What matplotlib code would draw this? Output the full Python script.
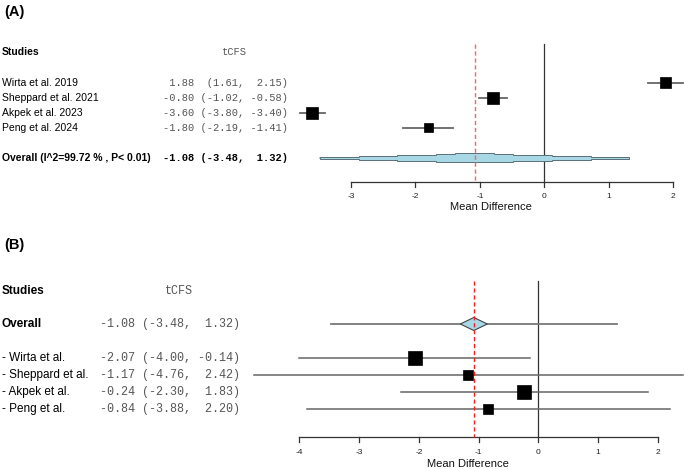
import matplotlib
matplotlib.use("Agg")
import matplotlib.pyplot as plt
from matplotlib.patches import Polygon, Rectangle

W, H = 685, 469

# ---------------- data ----------------
studies_a = ["Wirta et al. 2019", "Sheppard et al. 2021", "Akpek et al. 2023", "Peng et al. 2024"]
md_a = [1.88, -0.80, -3.60, -1.80]
lo_a = [1.61, -1.02, -3.80, -2.19]
hi_a = [2.15, -0.58, -3.40, -1.41]
size_a = [11, 11.5, 12, 9]          # square sizes (px), reflect weights
overall_a = (-1.08, -3.48, 1.32)
overall_label_a = "Overall (I^2=99.72 % , P< 0.01)"
ticks_a = [-3, -2, -1, 0, 1, 2]

studies_b = ["- Wirta et al.", "- Sheppard et al.", "- Akpek et al.", "- Peng et al."]
md_b = [-2.07, -1.17, -0.24, -0.84]
lo_b = [-4.00, -4.76, -2.30, -3.88]
hi_b = [-0.14, 2.42, 1.83, 2.20]
size_b = [14, 10, 14, 10.5]
overall_b = (-1.08, -3.48, 1.32)
ticks_b = [-4, -3, -2, -1, 0, 1, 2]

col_header = "tCFS"
xlabel = "Mean Difference"

fig = plt.figure(figsize=(W / 100, H / 100), dpi=100)
SANS = "Liberation Sans"
MONO = "Liberation Mono"


def fx(x):
    return x / W


def fy(y):
    return 1 - y / H


def fmt(m, l, h):
    return f"{m:5.2f} " + f"({l:.2f},".rjust(7) + f"{h:6.2f})"


def make_axes(left, right, top, bottom, xl, xr, yt, yb):
    ax = fig.add_axes([fx(left), fy(bottom), (right - left) / W, (bottom - top) / H])
    ax.set_xlim(xl, xr)
    ax.set_ylim(yb, yt)
    ax.axis("off")
    return ax


def px_per_unit(ax):
    x0 = ax.transData.transform((0, 0))
    x1 = ax.transData.transform((1, 1))
    return abs(x1[0] - x0[0]), abs(x1[1] - x0[1])


def draw_axis(ax, ticks, yax, fs, lab_y_px, lab_x_px, tick_y_px):
    ax.plot([ticks[0], ticks[-1]], [yax, yax], color="#333333", lw=0.9, clip_on=False)
    ux, uy = px_per_unit(ax)
    tl = 5 / uy
    for t in ticks:
        ax.plot([t, t], [yax, yax + tl], color="#333333", lw=0.9, clip_on=False)
        xpix = ax.transData.transform((t, 0))[0]
        fig.text(xpix / W, fy(tick_y_px), f"{t}", ha="center", va="center",
                 fontsize=fs, family=SANS, color="#222222")
    fig.text(fx(lab_x_px), fy(lab_y_px), xlabel, ha="center", va="center",
             fontsize=fs + 2, family=SANS, color="#111111")


def square(ax, x, y, s_px):
    ux, uy = px_per_unit(ax)
    w = s_px / ux
    h = s_px / uy
    ax.add_patch(Rectangle((x - w / 2, y - h / 2), w, h, facecolor="black",
                           edgecolor="black", lw=0.5, zorder=5, clip_on=False))


# ================= Panel A =================
fig.text(fx(4), fy(12), "(A)", fontsize=10.5, fontweight="bold", family=SANS, va="center", ha="left")
rowpx_a = lambda i: 83 + 15 * i
axA = make_axes(300, 685, 40, 190, (300 - 544.3) / 64.4, (685 - 544.3) / 64.4,
                (40 - 83) / 15, (190 - 83) / 15)

fig.text(fx(2), fy(52), "Studies", fontsize=7.5, fontweight="bold", family=SANS, va="center")
fig.text(fx(234), fy(52), col_header, fontsize=7.5, family=MONO, color="#555555", va="center", ha="center")
for i, (s, m, l, h) in enumerate(zip(studies_a, md_a, lo_a, hi_a)):
    fig.text(fx(2), fy(rowpx_a(i)), s, fontsize=7.5, family=SANS, va="center")
    fig.text(fx(163), fy(rowpx_a(i)), fmt(m, l, h), fontsize=7.5, family=MONO,
             color="#555555", va="center")
ov_i = 5
fig.text(fx(2), fy(rowpx_a(ov_i)), overall_label_a, fontsize=7.5, fontweight="bold", family=SANS, va="center")
fig.text(fx(163), fy(rowpx_a(ov_i)), fmt(*overall_a), fontsize=7.5, fontweight="bold",
         family=MONO, va="center")

yaxA = (182 - 83) / 15
ytopA = (44 - 83) / 15
axA.plot([0, 0], [ytopA, yaxA], color="#333333", lw=0.9, zorder=1)
axA.plot([overall_a[0]] * 2, [ytopA, yaxA], color="#ee6666", lw=1.0, ls=(0, (3, 2)), zorder=6)

for i, (m, l, h, s) in enumerate(zip(md_a, lo_a, hi_a, size_a)):
    axA.plot([l, h], [i, i], color="#666666", lw=1.3, zorder=3, clip_on=False)
    square(axA, m, i, s)

# stepped overall diamond (staircase outline)
ux, uy = px_per_unit(axA)
m, l, h = overall_a
n = 8
half_full = 4.5 / uy
axA.plot([l, h], [ov_i, ov_i], color="#b0b0b0", lw=1.2, zorder=2)
top_pts = []
for k in range(n, 0, -1):          # left half, outer -> inner
    hk = half_full * (n - k + 1) / n
    x_out = m - (m - l) * k / n
    x_in = m - (m - l) * (k - 1) / n
    top_pts += [(x_out, ov_i - hk), (x_in, ov_i - hk)]
for k in range(1, n + 1):          # right half, inner -> outer
    hk = half_full * (n - k + 1) / n
    x_in = m + (h - m) * (k - 1) / n
    x_out = m + (h - m) * k / n
    top_pts += [(x_in, ov_i - hk), (x_out, ov_i - hk)]
bot_pts = [(x, 2 * ov_i - y) for (x, y) in reversed(top_pts)]
axA.add_patch(Polygon(top_pts + bot_pts, closed=True, facecolor="#a8d8e6",
                      edgecolor="#5b6f76", lw=0.7, zorder=3))

draw_axis(axA, ticks_a, yaxA, 6, 207, 491, 196)

# ================= Panel B =================
fig.text(fx(4), fy(245), "(B)", fontsize=10.5, fontweight="bold", family=SANS, va="center", ha="left")
rowpx_b = lambda i: 324 + 17 * i
axB = make_axes(250, 685, 275, 445, (250 - 538.3) / 59.7, (685 - 538.3) / 59.7,
                (275 - 324) / 17, (445 - 324) / 17)

fig.text(fx(2), fy(291), "Studies", fontsize=8.5, fontweight="bold", family=SANS, va="center")
fig.text(fx(179), fy(291), col_header, fontsize=8.5, family=MONO, color="#555555", va="center", ha="center")
fig.text(fx(2), fy(rowpx_b(0)), "Overall", fontsize=8.5, fontweight="bold", family=SANS, va="center")
fig.text(fx(100), fy(rowpx_b(0)), fmt(*overall_b), fontsize=8.5, family=MONO,
         color="#555555", va="center")
for j, (s, m_, l_, h_) in enumerate(zip(studies_b, md_b, lo_b, hi_b)):
    i = j + 2
    fig.text(fx(2), fy(rowpx_b(i)), s, fontsize=8.5, family=SANS, va="center")
    fig.text(fx(100), fy(rowpx_b(i)), fmt(m_, l_, h_), fontsize=8.5, family=MONO,
             color="#555555", va="center")

yaxB = (437 - 324) / 17
ytopB = (281 - 324) / 17
axB.plot([0, 0], [ytopB, yaxB], color="#333333", lw=0.9, zorder=1)
axB.plot([overall_b[0]] * 2, [ytopB, yaxB], color="#ee2222", lw=1.0, ls=(0, (3, 2)), zorder=6)

m, l, h = overall_b
axB.plot([l, h], [0, 0], color="#777777", lw=1.3, zorder=2)
ux, uy = px_per_unit(axB)
dw, dh = 13.5 / ux, 6.5 / uy
axB.add_patch(Polygon([(m - dw, 0), (m, -dh), (m + dw, 0), (m, dh)], closed=True,
                      facecolor="#a8d8e6", edgecolor="#444444", lw=0.8, zorder=5))

for j, (m_, l_, h_, s) in enumerate(zip(md_b, lo_b, hi_b, size_b)):
    i = j + 2
    axB.plot([l_, h_], [i, i], color="#666666", lw=1.1, zorder=3, clip_on=False)
    square(axB, m_, i, s)

draw_axis(axB, ticks_b, yaxB, 6, 464, 468, 452)

fig.savefig("out.png", dpi=100)
